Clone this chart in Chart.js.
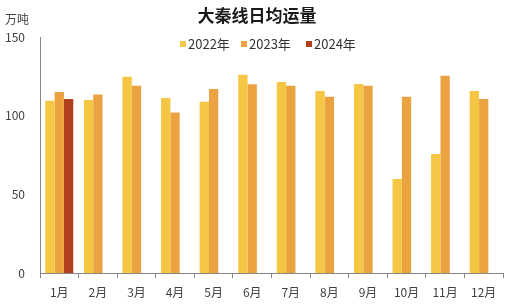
<!DOCTYPE html>
<html>
<head>
<meta charset="utf-8">
<script src="https://cdn.jsdelivr.net/npm/chart.js"></script>
<style>
  html, body { margin: 0; padding: 0; background: #fff; }
  #wrap { width: 514px; height: 304px; }
</style>
</head>
<body>
<div id="wrap"><canvas id="barChart" width="514" height="304"></canvas></div>
<script>
    // 数据
    var months = ['1月', '2月', '3月', '4月', '5月', '6月', '7月', '8月', '9月', '10月', '11月', '12月'];
    var data2022 = [109.5, 110, 124.8, 111.3, 108.9, 126, 121.4, 115.7, 120.2, 59.8, 75.7, 115.7];
    var data2023 = [115, 113.4, 119, 102, 117, 120, 119, 112, 119, 112, 125.4, 110.6];
    var data2024 = [110.6, null, null, null, null, null, null, null, null, null, null, null];
    var yTicks = [0, 50, 100, 150];

    var FONT = '"Noto Sans CJK SC", "DejaVu Sans", sans-serif';

    // 标题、单位和图例（叠在绘图区上方）
    var headerPlugin = {
        id: 'header',
        afterDraw: function (chart) {
            var ctx = chart.ctx;
            ctx.save();
            ctx.fillStyle = '#1a1a1a';
            ctx.font = 'bold 17px ' + FONT;
            ctx.textAlign = 'center';
            ctx.textBaseline = 'middle';
            ctx.fillText('大秦线日均运量', 257, 16);

            ctx.fillStyle = '#404040';
            ctx.font = '12px ' + FONT;
            ctx.textAlign = 'left';
            ctx.fillText('万吨', 5, 19);

            var xs = [180, 241, 306];
            ctx.font = '13px ' + FONT;
            chart.data.datasets.forEach(function (ds, i) {
                ctx.fillStyle = ds.backgroundColor;
                ctx.fillRect(xs[i], 41, 6, 6);
                ctx.fillStyle = '#333';
                ctx.fillText(ds.label, xs[i] + 8, 44);
            });
            ctx.restore();
        }
    };

    var ctx = document.getElementById('barChart').getContext('2d');
    var barChart = new Chart(ctx, {
        type: 'bar',
        data: {
            labels: months,
            datasets: [
                { label: '2022年', data: data2022, backgroundColor: '#F5C544' },
                { label: '2023年', data: data2023, backgroundColor: '#EBA341' },
                { label: '2024年', data: data2024, backgroundColor: '#B1401F' }
            ]
        },
        plugins: [headerPlugin],
        options: {
            responsive: false,
            animation: false,
            layout: { padding: { top: 37, right: 11, left: 0, bottom: 0 } },
            datasets: {
                bar: { barPercentage: 1, categoryPercentage: 0.725 }
            },
            plugins: {
                legend: { display: false },
                title: { display: false },
                tooltip: { enabled: false }
            },
            scales: {
                x: {
                    grid: {
                        display: true,
                        offset: true,
                        drawOnChartArea: false,
                        drawTicks: true,
                        tickLength: 5,
                        color: '#868686'
                    },
                    border: { display: true, color: '#868686' },
                    ticks: {
                        color: '#404040',
                        font: { size: 12, family: FONT },
                        padding: 7,
                        maxRotation: 0
                    },
                    afterFit: function (scale) { scale.height = 31; }
                },
                y: {
                    min: 0,
                    max: 150,
                    afterBuildTicks: function (scale) {
                        scale.ticks = yTicks.map(function (v) { return { value: v }; });
                    },
                    grid: { display: false },
                    border: { display: true, color: '#868686' },
                    ticks: {
                        color: '#404040',
                        font: { size: 12, family: FONT },
                        padding: 7
                    },
                    afterFit: function (scale) { scale.width = 40; }
                }
            }
        }
    });
</script>
</body>
</html>
